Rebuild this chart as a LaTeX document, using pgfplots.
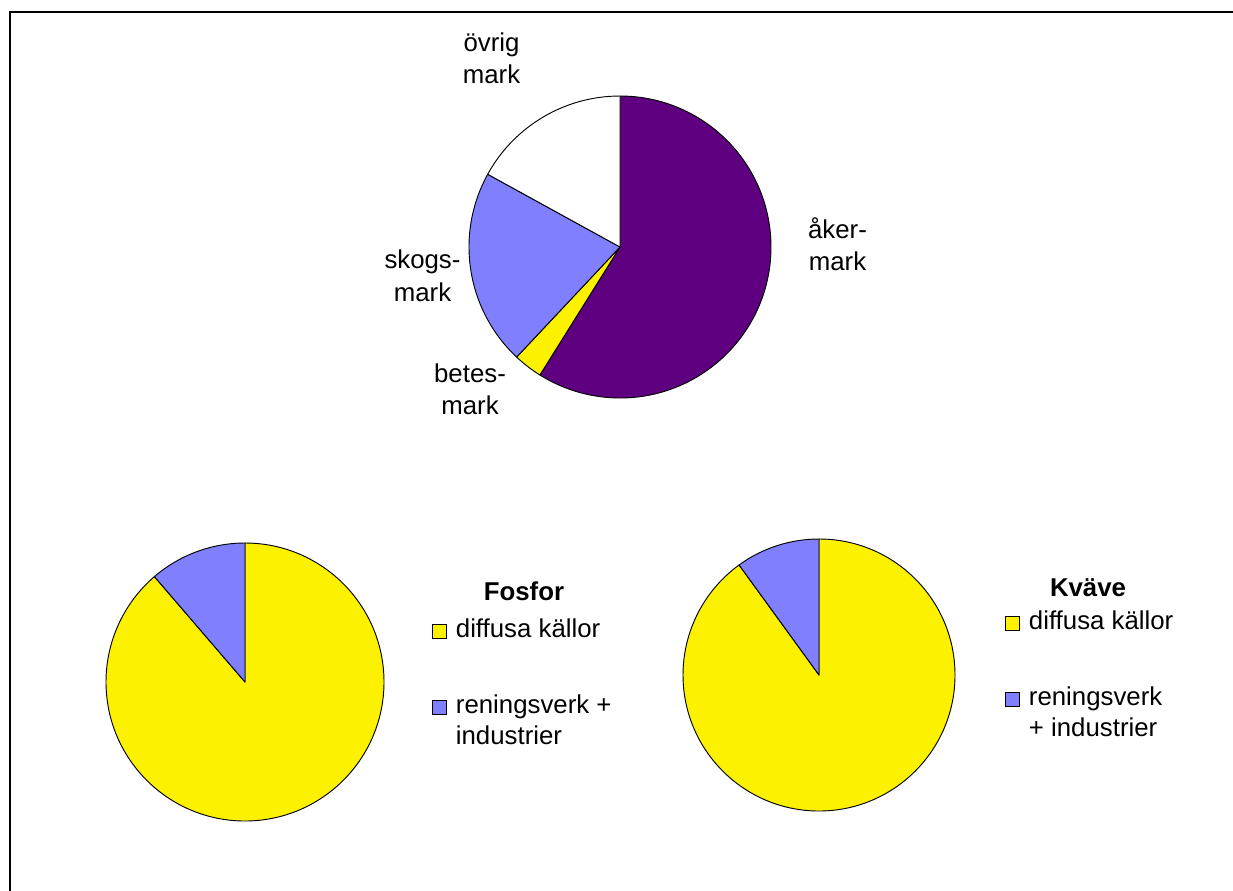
\documentclass[border=0pt]{standalone}
\usepackage{pgfplots}
\pgfplotsset{compat=1.18}
\usepackage{pgfplotstable}
\usepackage{fontspec}
\setmainfont{Liberation Sans}
\definecolor{pieviolet}{HTML}{5F0080}
\definecolor{pieblue}{HTML}{8080FF}
\definecolor{pieyellow}{HTML}{FCF200}
\definecolor{piewhite}{HTML}{FFFFFF}

% shares in percent, clockwise from 12 o'clock
\pgfplotstableread{
share colour
58.9 pieviolet
3.1 pieyellow
21.0 pieblue
17.0 piewhite
}\landuse
\pgfplotstableread{
share colour
88.7 pieyellow
11.3 pieblue
}\fosfor
\pgfplotstableread{
share colour
90.0 pieyellow
10.0 pieblue
}\kvave

% #1 table, #2 cx, #3 cy (pixel units of the axis), #4 radius in pixels
\newcommand{\drawpie}[4]{%
  \pgfplotstablegetrowsof{#1}%
  \pgfmathtruncatemacro{\pielast}{\pgfplotsretval-1}%
  \pgfmathsetmacro{\pierad}{#4*0.75}%
  \def\piecur{90}%
  \pgfplotsforeachungrouped \i in {0,...,\pielast}{%
    \pgfplotstablegetelem{\i}{share}\of{#1}\let\pieval\pgfplotsretval
    \pgfplotstablegetelem{\i}{colour}\of{#1}\let\piecol\pgfplotsretval
    \pgfmathsetmacro{\pienext}{\piecur-3.6*\pieval}%
    \filldraw[fill=\piecol, draw=black, line width=0.7pt, line join=round]
      (axis cs:#2,#3) -- ([shift={(\piecur:\pierad pt)}]axis cs:#2,#3)
      arc[start angle=\piecur, end angle=\pienext, radius=\pierad pt] -- cycle;
    \let\piecur\pienext
  }%
}
\newcommand{\twolines}[2]{\begin{tabular}[t]{@{}l@{}}#1\\#2\end{tabular}}

\pgfplotsset{pixelaxis/.style={scale only axis, width=924.75pt, height=668.25pt,
  xmin=0, xmax=1233, ymin=0, ymax=891, y dir=reverse, hide axis, clip=false,
  anchor=north west, at={(0pt,0pt)}},
  pielegend/.style={legend style={draw=none, fill=none, inner sep=0pt, outer sep=0pt,
    font=\fontsize{19.35}{23.25}\selectfont, row sep=39pt, column sep=6.75pt,
    cells={anchor=base west}, nodes={inner sep=0pt}}}}

\begin{document}
\begin{tikzpicture}[font=\fontsize{19.35}{23.25}\selectfont]
% ---- frame and land-use pie
\begin{axis}[pixelaxis]
\pgfplotsextra{
  \draw[line width=1.5pt] (axis cs:10,905) -- (axis cs:10,12) -- (axis cs:1250,12);
  \drawpie{\landuse}{620}{247}{151}
  \node[anchor=base] at (axis cs:491.5,51.7) {övrig};
  \node[anchor=base] at (axis cs:491.5,83.3) {mark};
  \node[anchor=base] at (axis cs:837.5,238.3) {åker-};
  \node[anchor=base] at (axis cs:837.5,270) {mark};
  \node[anchor=base] at (axis cs:422.5,268.3) {skogs-};
  \node[anchor=base] at (axis cs:422.5,301) {mark};
  \node[anchor=base] at (axis cs:470,382.3) {betes-};
  \node[anchor=base] at (axis cs:470,414.3) {mark};
}
\end{axis}
% ---- Fosfor
\begin{axis}[pixelaxis, pielegend, legend style={at={(0.35036,0.30528)}, anchor=north west}]
\addlegendimage{legend image code/.code={\draw[fill=pieyellow, draw=black, line width=0.7pt] (0pt,-0.75pt) rectangle (10.5pt,9.75pt);}}
\addlegendentry{diffusa källor}
\addlegendimage{legend image code/.code={\draw[fill=pieblue, draw=black, line width=0.7pt] (0pt,-0.75pt) rectangle (10.5pt,9.75pt);}}
\addlegendentry{\twolines{reningsverk +}{industrier}}
\pgfplotsextra{
  \drawpie{\fosfor}{245}{682}{139}
  \node[anchor=base, font=\fontsize{19.35}{23.25}\selectfont\bfseries] at (axis cs:524,600.7) {Fosfor};
}
\end{axis}
% ---- Kväve
\begin{axis}[pixelaxis, pielegend, legend style={at={(0.81509,0.31403)}, anchor=north west}]
\addlegendimage{legend image code/.code={\draw[fill=pieyellow, draw=black, line width=0.7pt] (0pt,-0.75pt) rectangle (10.5pt,9.75pt);}}
\addlegendentry{diffusa källor}
\addlegendimage{legend image code/.code={\draw[fill=pieblue, draw=black, line width=0.7pt] (0pt,-0.75pt) rectangle (10.5pt,9.75pt);}}
\addlegendentry{\twolines{reningsverk}{+ industrier}}
\pgfplotsextra{
  \drawpie{\kvave}{819}{675}{136}
  \node[anchor=base, font=\fontsize{19.35}{23.25}\selectfont\bfseries] at (axis cs:1088,596) {Kväve};
}
\end{axis}
\pgfresetboundingbox
\path (0pt,0pt) rectangle (924.75pt,-668.25pt);
\end{tikzpicture}
\end{document}
